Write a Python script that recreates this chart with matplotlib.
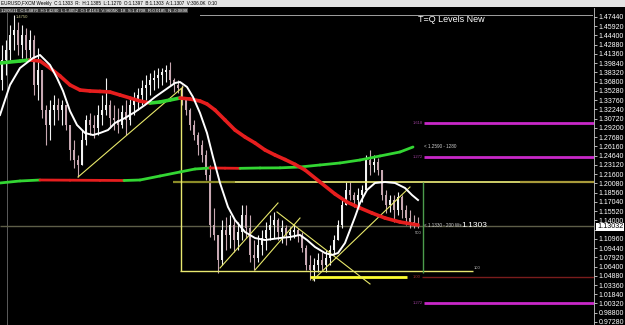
import matplotlib
matplotlib.use("Agg")
import matplotlib.pyplot as plt
import numpy as np
from matplotlib.collections import LineCollection
from matplotlib.patches import Rectangle

plt.rcParams['font.family'] = ['Liberation Sans', 'DejaVu Sans']

# weekly EURUSD bars (high, low, close)
highs = [1.4284, 1.4366, 1.4612, 1.4777, 1.4662, 1.4612, 1.4563, 1.4530, 1.4448, 1.4234,
         1.3872, 1.3297, 1.3379, 1.3461, 1.3412, 1.3379, 1.3297, 1.2968, 1.2721, 1.2474,
         1.2885, 1.3132, 1.3165, 1.3132, 1.3297, 1.3461, 1.3741, 1.3379, 1.3297, 1.3247,
         1.3297, 1.3379, 1.3412, 1.3510, 1.3576, 1.3708, 1.3790, 1.3823, 1.3872, 1.3905,
         1.3905, 1.3955, 1.4004, 1.3741, 1.3708, 1.3626, 1.3412, 1.3247, 1.3050, 1.2853,
         1.2721, 1.2557, 1.2310, 1.1603, 1.1159, 1.1405, 1.1455, 1.1487, 1.1438, 1.1372,
         1.1652, 1.1652, 1.1487, 1.1076, 1.1159, 1.1241, 1.1372, 1.1487, 1.1537, 1.1438,
         1.1405, 1.1323, 1.1290, 1.1323, 1.1274, 1.1208, 1.0994, 1.0830, 1.0780, 1.0862,
         1.0879, 1.0912, 1.0994, 1.1159, 1.1405, 1.1734, 1.2030, 1.2030, 1.1866, 1.1932,
         1.1981, 1.2474, 1.2557, 1.2474, 1.2425, 1.2228, 1.1899, 1.1816, 1.1816, 1.1866,
         1.1816, 1.1652, 1.1570, 1.1487, 1.1455]
lows = [1.3543, 1.3790, 1.4037, 1.4201, 1.4119, 1.4070, 1.4037, 1.4037, 1.3461, 1.3379,
        1.3083, 1.2639, 1.2721, 1.2968, 1.3050, 1.2968, 1.2885, 1.2392, 1.2261, 1.2112,
        1.2310, 1.2639, 1.2803, 1.2754, 1.2803, 1.2968, 1.3132, 1.2918, 1.2885, 1.2836,
        1.2918, 1.2803, 1.2968, 1.3132, 1.3214, 1.3297, 1.3379, 1.3461, 1.3543, 1.3576,
        1.3626, 1.3675, 1.3626, 1.3510, 1.3494, 1.3297, 1.3132, 1.2885, 1.2721, 1.2474,
        1.2359, 1.2063, 1.1126, 1.1076, 1.0534, 1.0665, 1.0912, 1.0945, 1.0879, 1.0912,
        1.1076, 1.1109, 1.0715, 1.0583, 1.0715, 1.0830, 1.0912, 1.1076, 1.1109, 1.1076,
        1.1027, 1.0994, 1.1076, 1.1109, 1.1043, 1.0879, 1.0583, 1.0418, 1.0402, 1.0550,
        1.0583, 1.0550, 1.0665, 1.0830, 1.1076, 1.1274, 1.1652, 1.1734, 1.1619, 1.1652,
        1.1701, 1.1899, 1.2145, 1.2195, 1.2145, 1.1734, 1.1520, 1.1537, 1.1372, 1.1487,
        1.1438, 1.1323, 1.1274, 1.1274, 1.1274]
closes = [1.4037, 1.4201, 1.4448, 1.4530, 1.4284, 1.4448, 1.4201, 1.4366, 1.3626, 1.3872,
          1.3214, 1.2968, 1.3214, 1.3297, 1.3214, 1.3297, 1.2968, 1.2557, 1.2392, 1.2310,
          1.2721, 1.3050, 1.2968, 1.2918, 1.3132, 1.3214, 1.3297, 1.3083, 1.3050, 1.2968,
          1.3182, 1.3050, 1.3297, 1.3379, 1.3461, 1.3576, 1.3626, 1.3708, 1.3741, 1.3790,
          1.3839, 1.3872, 1.3708, 1.3626, 1.3576, 1.3379, 1.3214, 1.2968, 1.2803, 1.2639,
          1.2474, 1.2145, 1.1323, 1.1159, 1.0747, 1.1241, 1.1159, 1.1323, 1.1076, 1.1208,
          1.1487, 1.1274, 1.0830, 1.0780, 1.0994, 1.1109, 1.1241, 1.1323, 1.1405, 1.1208,
          1.1274, 1.1159, 1.1208, 1.1241, 1.1142, 1.0945, 1.0665, 1.0583, 1.0665, 1.0747,
          1.0665, 1.0780, 1.0912, 1.1076, 1.1323, 1.1652, 1.1899, 1.1816, 1.1734, 1.1816,
          1.1899, 1.2392, 1.2310, 1.2359, 1.2228, 1.1816, 1.1652, 1.1734, 1.1570, 1.1784,
          1.1570, 1.1438, 1.1372, 1.1340, 1.1303]
first_open = 1.3700

# moving averages (bar index, price)
fast_x = [-0.5, 2, 4.5, 7.75, 9.5, 12, 13.75, 15.25, 17, 18.75, 20.75, 22.75, 24.5, 26.5,
          28.25, 30.75, 33.25, 35.75, 38.25, 40.75, 43.25, 44.5, 46.25, 47.75, 49.5, 51.25,
          52.75, 54.5, 56.5, 58.25, 60.75, 63.25, 65.75, 69.5, 72, 74.5, 76.25, 78.25,
          80.75, 82.5, 84, 85.75, 87, 88.25, 89.5, 91.25, 93.25, 95.75, 98.25, 100.75,
          102.5, 104]
fast_y = [1.3132, 1.3626, 1.3905, 1.4070, 1.4119, 1.3955, 1.3741, 1.3527, 1.3198, 1.2968,
          1.2836, 1.2803, 1.2836, 1.2885, 1.3001, 1.3083, 1.3182, 1.3297, 1.3428, 1.3543,
          1.3659, 1.3675, 1.3593, 1.3428, 1.3165, 1.2836, 1.2441, 1.2014, 1.1619, 1.1405,
          1.1208, 1.1109, 1.1076, 1.1109, 1.1126, 1.1159, 1.1076, 1.0961, 1.0862, 1.0830,
          1.0862, 1.1027, 1.1241, 1.1455, 1.1685, 1.1899, 1.2014, 1.2030, 1.2014, 1.1932,
          1.1816, 1.1734]
mid_x = [-0.5, 4.5, 7, 9.5, 12, 14.5, 17, 19.5, 22, 24.5, 27, 29.5, 32, 34.5, 37, 39.5,
         42, 44.5, 47, 49.5, 51.25, 53.25, 55.75, 58.25, 60.75, 63.25, 65.75, 68.25, 70.75,
         73.25, 75.75, 79.5, 83.25, 86.25, 89.5, 92.5, 95.75, 99.5, 104]
mid_y = [1.3987, 1.4020, 1.4037, 1.4020, 1.3905, 1.3774, 1.3626, 1.3543, 1.3527, 1.3520,
         1.3510, 1.3461, 1.3412, 1.3362, 1.3329, 1.3346, 1.3379, 1.3412, 1.3395, 1.3362,
         1.3313, 1.3214, 1.3050, 1.2885, 1.2770, 1.2672, 1.2557, 1.2474, 1.2400, 1.2320,
         1.2228, 1.2030, 1.1833, 1.1701, 1.1603, 1.1520, 1.1438, 1.1372, 1.1323]
slow_x = [-0.5, 4.5, 9.5, 17, 24.5, 30.5, 34.5, 39.5, 44.5, 48.25, 52, 55.75, 59.5, 64.5,
          69.5, 74.5, 79.5, 84.5, 89.5, 94.5, 99.5, 102.75]
slow_y = [1.2014, 1.2047, 1.2063, 1.2060, 1.2057, 1.2055, 1.2063, 1.2129, 1.2195, 1.2244,
          1.2261, 1.2258, 1.2255, 1.2261, 1.2263, 1.2277, 1.2310, 1.2343, 1.2392, 1.2458,
          1.2524, 1.2606]

# drawn objects
level_top = 1.2030
level_box_bottom = 1.0566
level_one = 1.0468
level_price = 1.1303
magenta_levels = [1.2993, 1.2441, 1.0032]
magenta_names = ['1.618', '1.272', '1.272']
trend_lines = [((19, 1.2112), (45.25, 1.3593)),
               ((54.5, 1.0616), (69, 1.1685)),
               ((63.25, 1.0583), (74.5, 1.1438)),
               ((68.75, 1.1537), (92, 1.0353)),
               ((77.75, 1.0418), (102, 1.1948))]
price_ticks = [1.4744, 1.4592, 1.4440, 1.4288, 1.4136, 1.3984, 1.3832, 1.3680, 1.3528,
               1.3376, 1.3224, 1.3072, 1.2920, 1.2768, 1.2616, 1.2464, 1.2312, 1.2160,
               1.2008, 1.1856, 1.1704, 1.1552, 1.1400, 1.1248, 1.1096, 1.0944, 1.0792,
               1.0640, 1.0488, 1.0336, 1.0184, 1.0032, 0.9880, 0.9728]
hidden_tick = 1.1248   # sits under the current-price box

W, H = 625, 325
fig = plt.figure(figsize=(6.25, 3.25), dpi=100, facecolor='black')
ax = fig.add_axes([0, 0, 594 / W, 317 / H])
ax.set_facecolor('black')
XMAX = 148
ax.set_xlim(-0.5, XMAX)
ax.set_ylim(0.96783, 1.48920)

# candles
x = np.arange(len(closes))
c = np.array(closes)
o = np.r_[first_open, c[:-1]]
cols = np.where(c >= o, '#f2f2f2', '#c8a8b2')
ax.vlines(x, lows, highs, colors=cols, lw=0.8, zorder=3)
ax.bar(x, np.maximum(np.abs(c - o), 0.0012), bottom=np.minimum(o, c), width=0.55,
       color=cols, linewidth=0, zorder=3)


def slope_line(xs, ys, lw):
    pts = np.column_stack([xs, ys])
    segs = np.stack([pts[:-1], pts[1:]], axis=1)
    colors = ['#33d633' if b > a else '#e61e1e' for a, b in zip(ys[:-1], ys[1:])]
    ax.add_collection(LineCollection(segs, colors=colors, linewidths=lw,
                                     capstyle='round', zorder=5))


slope_line(slow_x, slow_y, 2.0)
slope_line(mid_x, mid_y, 2.6)
ax.plot(fast_x, fast_y, color='white', lw=1.4, zorder=6)

# horizontal levels
ax.axvline(1.25, color='#6a6a6a', lw=0.6, zorder=1)
ax.hlines(level_price, -0.5, XMAX, color='#5e5e48', lw=1, zorder=2)
ax.hlines(level_top, 42.75, 58.25, color='#8c8c28', lw=1.6, zorder=4)
ax.hlines(level_top, 58.25, 129.5, color='#f0f07a', lw=1.2, zorder=4)
ax.hlines(level_top, 129.5, XMAX, color='#a89a3a', lw=1.6, zorder=4)
ax.hlines(level_box_bottom, 44.5, 117.75, color='#e8e870', lw=1, zorder=4)
ax.hlines(level_one, 77, 101.25, color='#ffff30', lw=2, zorder=4)
ax.hlines(level_one, 105, XMAX, color='#7a1c1c', lw=1, zorder=4)
ax.vlines(44.75, level_box_bottom, 1.3576, color='#e8e870', lw=1, zorder=4)
ax.vlines(105.25, 1.0534, level_top, color='#4c9c4c', lw=1, zorder=4)
for lvl, name in zip(magenta_levels, magenta_names):
    ax.hlines(lvl, 105.5, XMAX, color='#c828c8', lw=2, zorder=4)
    ax.text(102.8, lvl, name, color='#9a409a', fontsize=3, va='center', zorder=7)
ax.text(102.8, level_one, '1.00', color='#a03030', fontsize=3, va='center', zorder=7)

for (x0, y0), (x1, y1) in trend_lines:
    ax.plot([x0, x1], [y0, y1], color='#e8e86a', lw=0.8, zorder=4)

# labels on the chart
ax.text(104, 1.4711, 'T=Q Levels New', color='white', fontsize=6.5, va='center')
ax.text(105.4, 1.2606, '< 1.2590 - 1280', color='#cfcfcf', fontsize=3.3, va='center')
ax.text(105.4, 1.1315, '< 1.1330 - 200 Ws', color='#cfcfcf', fontsize=3.3, va='center')
ax.text(114.8, 1.1315, '1.1303', color='white', fontsize=6, va='center')
ax.text(103.2, 1.1185, '500', color='#bdbdbd', fontsize=3, va='center')
ax.text(117.9, 1.0620, '100', color='#bdbdbd', fontsize=3, va='center')
ax.text(3.5, 1.4744, '1.4750', color='#c8c890', fontsize=3, va='center')

# right price scale
ax.yaxis.tick_right()
ax.set_yticks(price_ticks)
ax.set_yticklabels(['' if t == hidden_tick else '%.5f' % t for t in price_ticks])
ax.tick_params(axis='y', colors='white', labelsize=5, length=2, width=0.5, pad=1.5)
ax.set_xticks([])
for s in ['top', 'bottom', 'left']:
    ax.spines[s].set_visible(False)
ax.spines['right'].set_color('#c8c8c8')
ax.spines['right'].set_linestyle((0, (1, 1)))
ax.spines['right'].set_linewidth(0.6)

# header bars
fig.patches.append(Rectangle((0, 1 - 7 / H), 1, 7 / H, transform=fig.transFigure,
                             facecolor='#e4e4e4', edgecolor='none', zorder=0))
fig.text(1 / W, 1 - 3.5 / H,
         'EURUSD,FXCM Weekly  C:1.1303  R:  H:1.1385  L:1.1270  O:1.1397  B:1.1303  A:1.1307  V:306.0K  0:10',
         color='black', fontsize=3.3, va='center')
fig.text(1 / W, 1 - 10.5 / H,
         '12/05/11  C:1.4870  H:1.4240  L:1.4052  O:1.4163  V:9605K  18  S:1.4708  R:0.0185  N:-0.0898',
         color='white', fontsize=3.2, va='center',
         bbox=dict(facecolor='#3a3a3a', edgecolor='none', pad=0.6))
fig.add_artist(plt.Line2D([200 / W, 592 / W], [1 - 14.5 / H, 1 - 14.5 / H],
                          color='#a0a0a0', lw=0.7))
fig.text(597 / W, 1 - 227 / H, '1.13032', color='black', fontsize=5.2, va='center',
         bbox=dict(facecolor='white', edgecolor='none', pad=0.6))

fig.savefig('out.png', dpi=100, facecolor='black')
